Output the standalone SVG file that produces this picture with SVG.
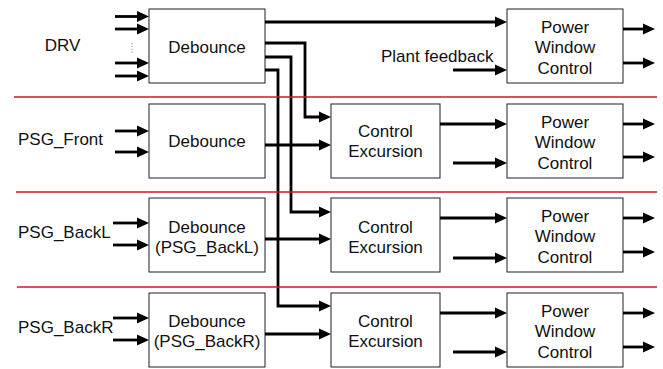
<svg xmlns="http://www.w3.org/2000/svg" width="663" height="369" viewBox="0 0 663 369">
  <style>
    .box { fill: #ffffff; stroke: #333333; stroke-width: 1.1; }
    .lbl { font-family: "Liberation Sans", Arial, Helvetica, sans-serif; font-size: 17px; fill: #111111; }
    .mid { text-anchor: middle; }
    .wire { fill: none; stroke: #000000; stroke-width: 2.8; stroke-linejoin: miter; }
    .arr { marker-end: url(#head); }
    .sep { stroke: #cc1424; stroke-width: 1.7; }
  </style>
  <defs>
    <marker id="head" markerUnits="userSpaceOnUse" markerWidth="13" markerHeight="11" refX="2" refY="5.5" orient="auto" overflow="visible">
      <path d="M0,0 L12,5.5 L0,11 Z" fill="#000000"/>
    </marker>
  </defs>

  <!-- row labels -->
  <text class="lbl mid" x="62.5" y="51">DRV</text>
  <text class="lbl" x="18" y="145">PSG_Front</text>
  <text class="lbl" x="18" y="238">PSG_BackL</text>
  <text class="lbl" x="18" y="333">PSG_BackR</text>
  <text class="lbl" x="381" y="62">Plant feedback</text>

  <!-- debounce blocks -->
  <g id="deb-drv">
    <rect class="box" x="149" y="9" width="116" height="74"/>
    <text class="lbl mid" x="207" y="53">Debounce</text>
  </g>
  <g id="deb-front">
    <rect class="box" x="149" y="104" width="116" height="74"/>
    <text class="lbl mid" x="207" y="147">Debounce</text>
  </g>
  <g id="deb-backl">
    <rect class="box" x="149" y="198" width="116" height="74"/>
    <text class="lbl mid" x="207" y="233">Debounce</text>
    <text class="lbl mid" x="207" y="253">(PSG_BackL)</text>
  </g>
  <g id="deb-backr">
    <rect class="box" x="149" y="293" width="116" height="74"/>
    <text class="lbl mid" x="207" y="327">Debounce</text>
    <text class="lbl mid" x="207" y="347">(PSG_BackR)</text>
  </g>

  <!-- control excursion blocks -->
  <g id="ce-front">
    <rect class="box" x="331" y="104" width="109" height="74"/>
    <text class="lbl mid" x="385.5" y="137">Control</text>
    <text class="lbl mid" x="385.5" y="157">Excursion</text>
  </g>
  <g id="ce-backl">
    <rect class="box" x="331" y="198" width="109" height="74"/>
    <text class="lbl mid" x="385.5" y="232.5">Control</text>
    <text class="lbl mid" x="385.5" y="252.5">Excursion</text>
  </g>
  <g id="ce-backr">
    <rect class="box" x="331" y="293" width="109" height="74"/>
    <text class="lbl mid" x="385.5" y="326.5">Control</text>
    <text class="lbl mid" x="385.5" y="346.5">Excursion</text>
  </g>

  <!-- power window control blocks -->
  <g id="pwc-drv">
    <rect class="box" x="507" y="9" width="116" height="74"/>
    <text class="lbl mid" x="565" y="32.5">Power</text>
    <text class="lbl mid" x="565" y="53">Window</text>
    <text class="lbl mid" x="565" y="73.5">Control</text>
  </g>
  <g id="pwc-front">
    <rect class="box" x="507" y="104" width="116" height="74"/>
    <text class="lbl mid" x="565" y="127.5">Power</text>
    <text class="lbl mid" x="565" y="148">Window</text>
    <text class="lbl mid" x="565" y="168.5">Control</text>
  </g>
  <g id="pwc-backl">
    <rect class="box" x="507" y="198" width="116" height="74"/>
    <text class="lbl mid" x="565" y="221.5">Power</text>
    <text class="lbl mid" x="565" y="242">Window</text>
    <text class="lbl mid" x="565" y="262.5">Control</text>
  </g>
  <g id="pwc-backr">
    <rect class="box" x="507" y="293" width="116" height="74"/>
    <text class="lbl mid" x="565" y="316.5">Power</text>
    <text class="lbl mid" x="565" y="337">Window</text>
    <text class="lbl mid" x="565" y="357.5">Control</text>
  </g>

  <g id="connectors">
    <!-- switch inputs -->
    <line class="wire arr" x1="115" y1="16.5" x2="139" y2="16.5"/>
    <line class="wire arr" x1="115" y1="29" x2="139" y2="29"/>
    <line class="wire arr" x1="115" y1="63" x2="139" y2="63"/>
    <line class="wire arr" x1="115" y1="76" x2="139" y2="76"/>
    <line x1="132" y1="43" x2="132" y2="53" stroke="#888888" stroke-width="1" stroke-dasharray="1.2,1.6"/>
    <line class="wire arr" x1="115" y1="131" x2="139" y2="131"/>
    <line class="wire arr" x1="115" y1="152" x2="139" y2="152"/>
    <line class="wire arr" x1="113" y1="223" x2="139" y2="223"/>
    <line class="wire arr" x1="113" y1="245" x2="139" y2="245"/>
    <line class="wire arr" x1="113" y1="318" x2="139" y2="318"/>
    <line class="wire arr" x1="113" y1="340" x2="139" y2="340"/>

    <!-- DRV debounce outputs -->
    <line class="wire arr" x1="265" y1="22" x2="497" y2="22"/>
    <path class="wire arr" d="M265,43 H305 V117 H321"/>
    <path class="wire arr" d="M265,57 H291 V212 H321"/>
    <path class="wire arr" d="M265,70 H278 V306 H321"/>

    <!-- passenger debounce outputs -->
    <line class="wire arr" x1="265" y1="145" x2="321" y2="145"/>
    <line class="wire arr" x1="265" y1="239" x2="321" y2="239"/>
    <line class="wire arr" x1="265" y1="334" x2="321" y2="334"/>

    <!-- into power window control -->
    <line class="wire arr" x1="453" y1="70" x2="497" y2="70"/>
    <line class="wire arr" x1="440" y1="124" x2="497" y2="124"/>
    <line class="wire arr" x1="453" y1="163" x2="497" y2="163"/>
    <line class="wire arr" x1="440" y1="218" x2="497" y2="218"/>
    <line class="wire arr" x1="453" y1="258" x2="497" y2="258"/>
    <line class="wire arr" x1="440" y1="313" x2="497" y2="313"/>
    <line class="wire arr" x1="453" y1="352" x2="497" y2="352"/>

    <!-- power window control outputs -->
    <line class="wire arr" x1="623" y1="29" x2="645" y2="29"/>
    <line class="wire arr" x1="623" y1="63" x2="645" y2="63"/>
    <line class="wire arr" x1="623" y1="124" x2="645" y2="124"/>
    <line class="wire arr" x1="623" y1="157" x2="645" y2="157"/>
    <line class="wire arr" x1="623" y1="218" x2="645" y2="218"/>
    <line class="wire arr" x1="623" y1="252" x2="645" y2="252"/>
    <line class="wire arr" x1="623" y1="313" x2="645" y2="313"/>
    <line class="wire arr" x1="623" y1="347" x2="645" y2="347"/>
  </g>

  <!-- row separators -->
  <g id="separators">
    <line class="sep" x1="14" y1="97" x2="657" y2="97"/>
    <line class="sep" x1="16" y1="192" x2="657" y2="192"/>
    <line class="sep" x1="17" y1="287" x2="657" y2="287"/>
  </g>
</svg>
